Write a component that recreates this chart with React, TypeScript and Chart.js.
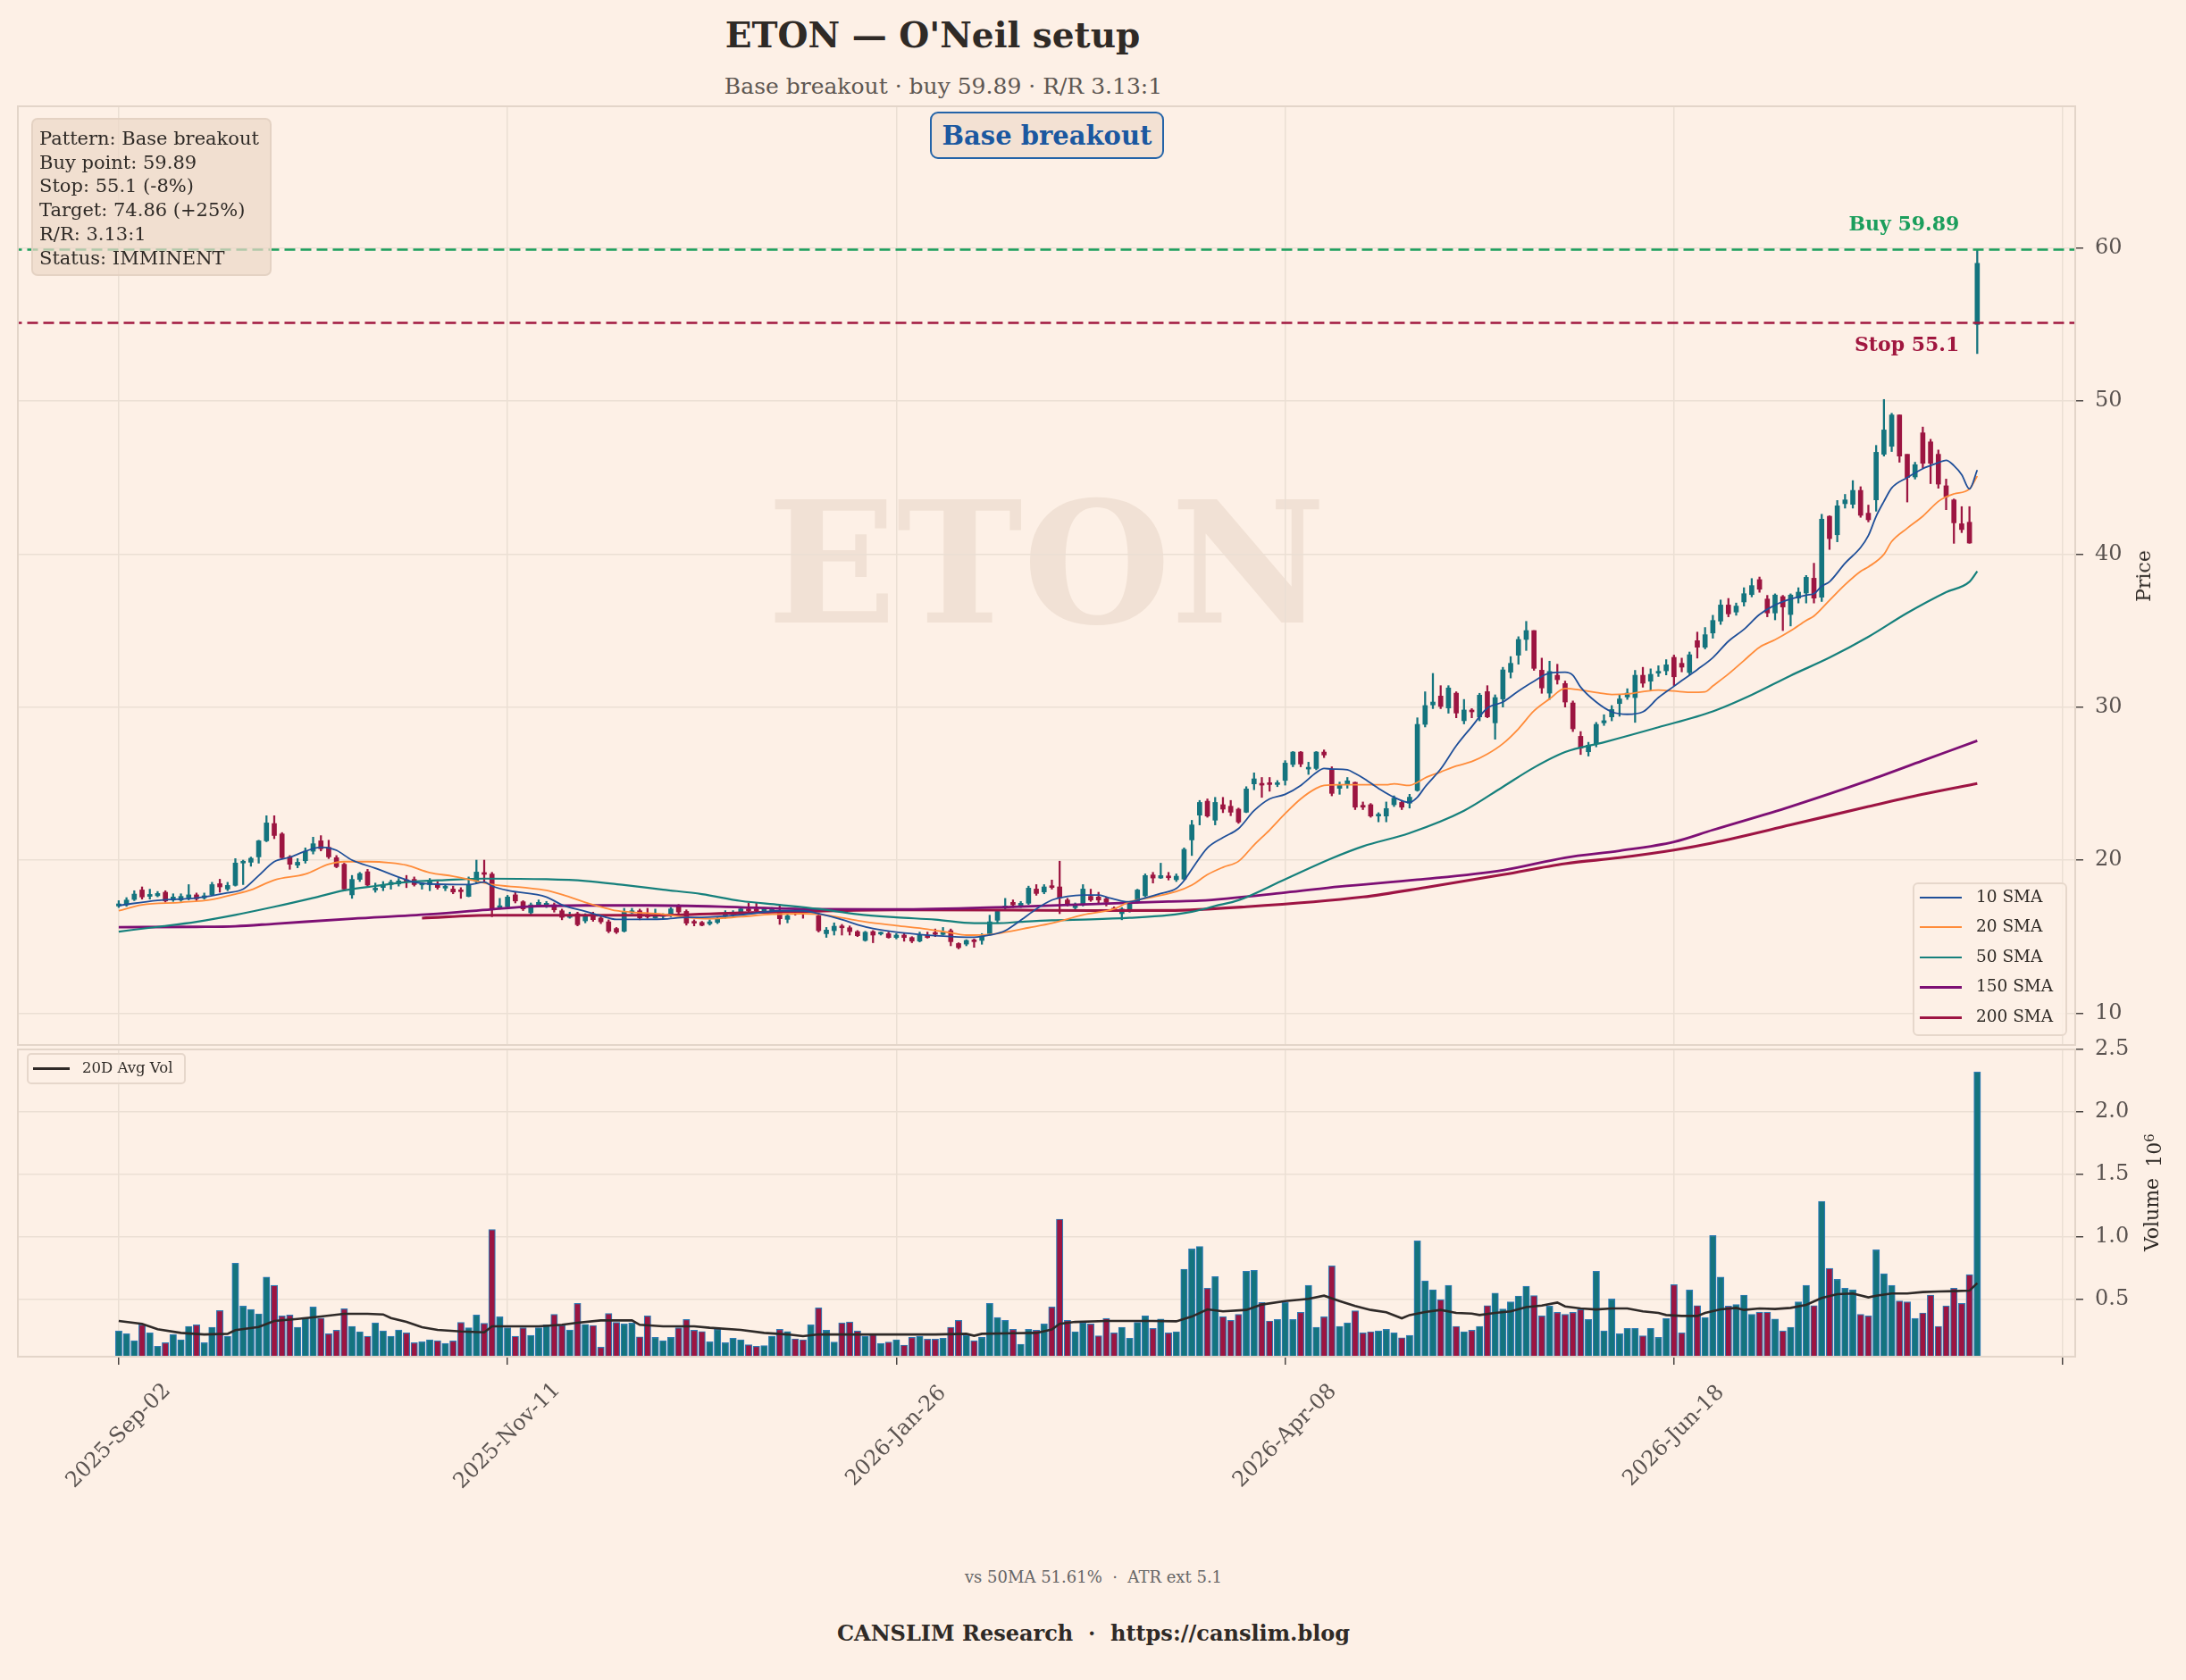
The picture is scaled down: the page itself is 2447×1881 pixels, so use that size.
import React, { useEffect, useRef } from "react";
import { Chart, registerables } from "chart.js";
Chart.register(...registerables);

const FONT = '"DejaVu Serif", "Liberation Serif", serif';
const BG = "#fdf0e6";
const GRID = "#ebdfd4";
const FRAME = "#e3d5c9";
const TICK_MARK = "#4a4542";
const TICK_TXT = "#5a5350";
const UP = "#14747e";
const DOWN = "#9c1541";
const EDGE = "#2f7bb5";
const GREEN = "#1b9e5c";
const STOPC = "#a0173f";
const C10 = "#1f4f99";
const C20 = "#ff8c3a";
const C50 = "#16807c";
const C150 = "#7d0f74";
const C200 = "#9d1443";

const TITLE = "ETON \u2014 O'Neil setup";
const SUBTITLE = "Base breakout \u00b7 buy 59.89 \u00b7 R/R 3.13:1";
const WATERMARK = "ETON";
const BUY = 59.89;
const STOP = 55.1;
const LABEL_IDX = 236.7;
const infoLines = ["Pattern: Base breakout", "Buy point: 59.89", "Stop: 55.1 (-8%)", "Target: 74.86 (+25%)", "R/R: 3.13:1", "Status: IMMINENT"];

const xTickIdx = [0, 50, 100, 150, 200, 250];
const xTickLabels = ["2025-Sep-02", "2025-Nov-11", "2026-Jan-26", "2026-Apr-08", "2026-Jun-18", ""];
const priceTicks = [10, 20, 30, 40, 50, 60];
const volTicks = [0.5, 1.0, 1.5, 2.0, 2.5];

const opens = [
  17.00, 17.08, 17.43, 18.05, 17.63, 17.67, 17.90, 17.39, 17.39, 17.53,
  17.73, 17.53, 17.73, 18.46, 18.11, 18.35, 19.81, 19.86, 20.21, 21.26,
  22.39, 21.71, 20.21, 19.67, 19.96, 20.58, 21.26, 20.84, 20.16, 19.73,
  17.73, 18.74, 19.24, 18.05, 18.21, 18.40, 18.44, 18.68, 18.74, 18.38,
  18.40, 18.40, 18.17, 18.11, 18.00, 17.63, 18.60, 19.14, 19.09, 16.90,
  16.95, 17.73, 17.28, 16.56, 17.08, 17.04, 17.08, 16.69, 16.26, 16.50,
  16.03, 16.46, 16.21, 15.97, 15.53, 15.35, 16.56, 16.69, 16.40, 16.23,
  16.32, 16.36, 16.95, 16.65, 15.97, 15.93, 15.84, 15.93, 16.32, 16.42,
  16.46, 16.81, 16.81, 16.65, 16.69, 16.56, 16.13, 16.69, 16.69, 16.69,
  16.36, 15.19, 15.39, 15.68, 15.58, 15.33, 14.75, 15.33, 15.17, 15.19,
  14.94, 15.10, 14.94, 14.71, 15.10, 15.20, 15.14, 15.39, 14.55, 14.51,
  14.75, 14.75, 15.19, 16.07, 16.89, 17.24, 17.04, 17.18, 18.11, 17.92,
  18.31, 18.25, 17.39, 16.89, 17.14, 17.63, 17.59, 17.47, 16.85, 16.50,
  16.65, 17.24, 17.67, 19.03, 18.83, 18.95, 18.72, 18.76, 21.32, 22.94,
  23.85, 22.61, 23.62, 23.52, 23.33, 23.13, 24.98, 24.98, 25.02, 24.94,
  25.21, 26.25, 27.06, 25.95, 25.99, 27.06, 25.95, 24.69, 24.98, 25.08,
  23.58, 23.62, 22.88, 22.88, 23.62, 23.77, 23.72, 24.55, 28.87, 30.14,
  30.72, 29.94, 30.91, 29.11, 29.75, 29.36, 31.01, 28.97, 30.53, 32.28,
  33.39, 34.42, 35.00, 32.41, 30.91, 32.08, 31.54, 30.27, 28.09, 27.08,
  27.61, 28.97, 29.36, 30.23, 30.66, 30.62, 32.08, 31.69, 32.22, 32.37,
  33.25, 32.86, 32.26, 34.34, 33.91, 34.84, 35.62, 36.67, 36.21, 36.87,
  37.35, 38.33, 37.06, 36.15, 37.22, 36.05, 37.12, 37.45, 38.42, 37.18,
  42.47, 41.26, 43.29, 43.25, 44.16, 42.67, 43.54, 46.52, 47.04, 49.09,
  46.52, 45.04, 47.92, 47.33, 46.52, 44.46, 43.54, 41.98, 42.08, 55.00,
];
const highs = [
  17.35, 17.55, 18.00, 18.25, 18.10, 17.95, 18.00, 17.80, 17.80, 18.40,
  17.85, 17.85, 18.55, 18.75, 18.55, 20.10, 20.00, 20.20, 21.30, 22.90,
  22.90, 21.80, 20.30, 20.10, 20.80, 21.50, 21.60, 21.30, 20.30, 19.80,
  19.00, 19.20, 19.40, 18.50, 18.60, 18.70, 18.80, 19.00, 18.90, 18.50,
  18.80, 18.60, 18.40, 18.30, 18.20, 18.90, 20.00, 20.00, 19.20, 17.50,
  17.70, 17.90, 17.35, 17.20, 17.40, 17.30, 17.20, 16.80, 16.60, 16.60,
  16.50, 16.60, 16.40, 16.10, 15.60, 16.85, 16.85, 16.80, 16.85, 16.80,
  16.50, 16.90, 17.10, 16.75, 16.10, 16.00, 16.10, 16.30, 16.70, 16.70,
  16.90, 17.20, 17.20, 16.90, 16.90, 17.00, 16.50, 16.80, 16.85, 16.85,
  16.50, 15.60, 15.90, 15.80, 15.70, 15.40, 15.35, 15.40, 15.30, 15.30,
  15.20, 15.20, 15.00, 15.30, 15.30, 15.50, 15.60, 15.50, 14.60, 14.80,
  14.85, 15.20, 16.40, 16.70, 17.50, 17.40, 17.30, 18.30, 18.40, 18.40,
  18.70, 19.93, 17.50, 17.20, 18.40, 18.10, 17.90, 17.60, 16.95, 16.90,
  17.30, 18.10, 19.10, 19.20, 19.80, 19.20, 19.10, 20.80, 22.60, 23.90,
  24.00, 24.10, 24.10, 23.90, 23.40, 24.80, 25.70, 25.40, 25.40, 25.20,
  26.50, 27.10, 27.10, 26.40, 27.10, 27.20, 26.10, 25.10, 25.40, 25.10,
  23.80, 23.70, 23.10, 23.80, 24.20, 23.90, 24.30, 29.30, 31.00, 32.20,
  31.40, 31.40, 31.00, 30.50, 29.90, 30.90, 31.40, 30.80, 32.60, 33.30,
  34.60, 35.60, 35.00, 33.20, 33.00, 32.80, 31.70, 30.40, 28.40, 27.70,
  29.00, 29.50, 30.10, 30.80, 31.20, 32.40, 32.60, 32.50, 32.70, 33.10,
  33.40, 33.20, 33.60, 34.90, 35.20, 36.00, 37.00, 37.10, 36.80, 37.80,
  38.40, 38.50, 37.30, 37.40, 37.30, 37.40, 37.80, 38.60, 39.40, 42.60,
  42.50, 43.50, 43.90, 44.80, 44.40, 43.20, 47.10, 50.10, 49.20, 49.10,
  46.50, 46.00, 48.30, 47.50, 46.80, 44.90, 43.60, 43.10, 43.10, 59.89,
];
const lows = [
  16.90, 16.98, 17.35, 17.45, 17.45, 17.60, 17.25, 17.30, 17.30, 17.40,
  17.35, 17.45, 17.70, 17.90, 18.00, 18.30, 18.40, 19.60, 19.80, 21.20,
  21.40, 20.10, 19.40, 19.50, 19.80, 20.40, 20.60, 20.10, 19.50, 18.00,
  17.50, 18.60, 18.30, 17.90, 18.00, 18.10, 18.30, 18.20, 18.30, 18.10,
  18.00, 18.10, 18.00, 17.80, 17.50, 17.60, 18.50, 18.60, 16.30, 16.80,
  16.90, 17.20, 16.70, 16.40, 17.00, 16.90, 16.60, 16.10, 16.20, 15.70,
  15.90, 16.00, 15.85, 15.25, 15.20, 15.30, 16.50, 16.10, 16.20, 16.20,
  16.20, 16.30, 16.50, 15.75, 15.70, 15.70, 15.75, 15.85, 16.20, 16.30,
  16.40, 16.60, 16.60, 16.55, 16.60, 15.80, 15.90, 16.40, 16.20, 16.60,
  15.30, 14.95, 15.10, 15.10, 15.10, 15.00, 14.70, 14.60, 15.10, 14.90,
  14.85, 14.70, 14.60, 14.65, 14.90, 15.00, 15.10, 14.40, 14.20, 14.40,
  14.30, 14.50, 15.10, 15.90, 16.80, 16.90, 16.90, 17.10, 17.70, 17.80,
  18.10, 16.50, 17.00, 16.80, 17.00, 17.30, 17.20, 17.00, 16.65, 16.10,
  16.60, 17.20, 17.60, 18.50, 18.80, 18.70, 18.60, 18.70, 20.30, 22.30,
  22.80, 22.30, 23.10, 22.90, 22.40, 23.10, 24.60, 24.10, 24.50, 24.80,
  24.90, 26.10, 26.10, 25.60, 25.90, 26.70, 24.20, 24.30, 24.70, 23.30,
  23.30, 22.80, 22.50, 22.50, 23.50, 23.30, 23.40, 24.50, 28.70, 29.90,
  29.90, 29.60, 29.30, 28.90, 29.30, 29.10, 29.30, 27.90, 30.00, 31.90,
  32.80, 33.70, 32.40, 30.90, 30.50, 31.50, 30.00, 28.40, 26.90, 26.80,
  27.40, 28.80, 29.10, 29.40, 30.50, 29.00, 31.30, 31.10, 32.00, 32.10,
  31.40, 32.30, 32.10, 33.20, 33.80, 34.50, 35.40, 35.90, 36.00, 36.60,
  37.20, 37.50, 35.90, 35.70, 35.00, 35.30, 36.80, 36.80, 36.80, 36.90,
  40.30, 40.80, 43.00, 43.00, 42.40, 42.10, 42.80, 46.40, 46.70, 46.00,
  43.40, 44.90, 45.60, 44.60, 44.30, 42.90, 40.70, 41.40, 40.70, 53.10,
];
const closes = [
  17.14, 17.39, 17.78, 17.59, 17.76, 17.82, 17.33, 17.59, 17.63, 17.73,
  17.47, 17.67, 18.40, 18.25, 18.35, 19.81, 19.86, 20.12, 21.26, 22.43,
  21.61, 20.16, 19.73, 19.86, 20.58, 21.07, 20.74, 20.21, 19.57, 18.11,
  18.74, 19.12, 18.37, 18.15, 18.40, 18.56, 18.64, 18.60, 18.40, 18.42,
  18.64, 18.21, 18.25, 17.92, 17.94, 18.40, 19.22, 19.07, 16.85, 16.97,
  17.59, 17.33, 16.81, 17.08, 17.24, 17.18, 16.75, 16.26, 16.36, 15.78,
  16.36, 16.11, 15.97, 15.35, 15.29, 16.65, 16.69, 16.23, 16.30, 16.36,
  16.38, 16.81, 16.61, 15.88, 15.88, 15.74, 15.97, 16.15, 16.38, 16.50,
  16.81, 16.69, 16.69, 16.81, 16.81, 16.17, 16.36, 16.61, 16.61, 16.77,
  15.39, 15.43, 15.68, 15.58, 15.33, 15.06, 15.29, 15.10, 15.23, 14.94,
  15.10, 14.94, 14.71, 15.14, 14.94, 15.15, 15.29, 14.67, 14.28, 14.75,
  14.67, 15.06, 15.97, 16.65, 17.00, 17.08, 17.18, 18.17, 17.82, 18.25,
  18.21, 17.53, 17.14, 17.00, 18.11, 17.39, 17.39, 17.24, 16.75, 16.81,
  17.24, 18.05, 18.99, 18.83, 18.99, 18.85, 18.95, 20.70, 22.30, 23.77,
  22.88, 23.77, 23.33, 23.13, 22.49, 24.65, 25.31, 24.90, 24.94, 25.02,
  26.34, 27.06, 26.28, 26.03, 27.06, 26.87, 24.36, 24.94, 25.18, 23.46,
  23.46, 22.88, 23.00, 23.37, 24.05, 23.46, 24.11, 28.87, 30.10, 30.33,
  30.04, 31.25, 29.61, 29.81, 29.69, 30.78, 29.36, 30.62, 32.43, 32.86,
  34.42, 35.00, 32.53, 31.25, 32.33, 31.79, 30.33, 28.58, 27.32, 27.51,
  28.87, 29.11, 29.84, 30.53, 30.91, 32.08, 31.56, 32.14, 32.33, 32.76,
  31.98, 32.61, 33.42, 33.91, 34.73, 35.66, 36.67, 36.09, 36.60, 37.41,
  37.94, 37.70, 36.15, 37.32, 36.54, 37.32, 37.51, 38.48, 37.12, 42.28,
  41.01, 43.15, 43.54, 44.16, 42.53, 42.24, 46.65, 48.11, 49.09, 46.40,
  45.00, 45.84, 45.93, 45.93, 44.57, 43.74, 42.04, 41.60, 40.72, 59.00,
];
// volume in millions of shares
const volumes = [
  0.250, 0.226, 0.171, 0.298, 0.233, 0.126, 0.155, 0.221, 0.179, 0.286,
  0.298, 0.155, 0.279, 0.412, 0.207, 0.790, 0.448, 0.421, 0.386, 0.679,
  0.614, 0.369, 0.376, 0.279, 0.357, 0.440, 0.352, 0.226, 0.255, 0.426,
  0.286, 0.243, 0.207, 0.314, 0.250, 0.207, 0.257, 0.233, 0.155, 0.162,
  0.179, 0.171, 0.150, 0.169, 0.317, 0.274, 0.376, 0.310, 1.060, 0.362,
  0.274, 0.207, 0.274, 0.214, 0.274, 0.298, 0.381, 0.293, 0.257, 0.469,
  0.302, 0.293, 0.119, 0.388, 0.317, 0.305, 0.312, 0.202, 0.369, 0.198,
  0.171, 0.198, 0.274, 0.340, 0.255, 0.245, 0.162, 0.262, 0.155, 0.190,
  0.179, 0.138, 0.126, 0.131, 0.207, 0.262, 0.245, 0.186, 0.179, 0.298,
  0.433, 0.255, 0.160, 0.314, 0.321, 0.250, 0.207, 0.219, 0.150, 0.160,
  0.179, 0.136, 0.198, 0.207, 0.183, 0.183, 0.190, 0.279, 0.333, 0.214,
  0.171, 0.198, 0.469, 0.357, 0.333, 0.262, 0.143, 0.262, 0.255, 0.305,
  0.440, 1.143, 0.333, 0.243, 0.314, 0.305, 0.210, 0.350, 0.233, 0.279,
  0.190, 0.317, 0.369, 0.269, 0.345, 0.233, 0.243, 0.743, 0.905, 0.924,
  0.590, 0.683, 0.364, 0.333, 0.381, 0.726, 0.733, 0.476, 0.329, 0.340,
  0.476, 0.340, 0.398, 0.614, 0.279, 0.362, 0.769, 0.286, 0.314, 0.410,
  0.233, 0.243, 0.250, 0.262, 0.233, 0.195, 0.214, 0.969, 0.650, 0.579,
  0.500, 0.614, 0.286, 0.243, 0.255, 0.286, 0.452, 0.552, 0.424, 0.481,
  0.529, 0.607, 0.531, 0.369, 0.448, 0.398, 0.381, 0.398, 0.421, 0.340,
  0.726, 0.250, 0.505, 0.226, 0.269, 0.269, 0.210, 0.269, 0.198, 0.350,
  0.619, 0.233, 0.576, 0.452, 0.357, 1.012, 0.679, 0.448, 0.460, 0.536,
  0.381, 0.400, 0.400, 0.345, 0.250, 0.279, 0.481, 0.614, 0.452, 1.286,
  0.750, 0.662, 0.590, 0.579, 0.381, 0.369, 0.898, 0.707, 0.614, 0.488,
  0.481, 0.350, 0.393, 0.536, 0.286, 0.450, 0.590, 0.469, 0.700, 2.320,
];

const sma10 = [
  [0, 17.04], [5, 17.37], [10, 17.53], [14, 17.86], [16, 18.1], [18, 18.99], [20, 19.9], [22, 20.19], [24, 20.58], [26, 20.84],
  [27, 20.8], [28, 20.64], [30, 20.0], [33, 19.47], [36, 18.89], [38, 18.56], [40, 18.44], [45, 18.4], [47, 18.56], [48, 18.31],
  [50, 18.02], [55, 17.59], [57, 17.08], [60, 16.65], [62, 16.36], [64, 16.13], [66, 16.13], [70, 16.15], [73, 16.26], [75, 16.26],
  [80, 16.42], [85, 16.69], [88, 16.69], [90, 16.5], [93, 16.11], [95, 15.78], [97, 15.53], [100, 15.29], [103, 15.14], [105, 15.06],
  [108, 14.98], [110, 14.96], [112, 15.1], [114, 15.39], [116, 16.07], [118, 16.81], [120, 17.39], [122, 17.63], [124, 17.72], [126, 17.72],
  [127, 17.59], [129, 17.33], [130, 17.28], [132, 17.53], [134, 17.82], [136, 18.15], [137, 18.66], [138, 19.4], [140, 20.8], [142, 21.48],
  [144, 22.06], [146, 23.23], [148, 24.0], [150, 24.3], [152, 24.88], [154, 25.72], [155, 25.99], [156, 25.95], [158, 25.9], [159, 25.66],
  [160, 25.37], [162, 24.69], [164, 24.11], [166, 23.77], [167, 24.11], [168, 24.79], [170, 25.95], [172, 27.47], [174, 28.72], [176, 29.94],
  [178, 30.33], [180, 31.05], [182, 31.69], [184, 32.22], [186, 32.28], [187, 32.08], [188, 31.3], [190, 30.33], [192, 29.69], [194, 29.53],
  [196, 29.69], [198, 30.62], [200, 31.36], [201, 31.73], [203, 32.45], [205, 33.23], [207, 34.3], [209, 35.08], [211, 36.05], [213, 36.67],
  [215, 37.06], [217, 37.32], [218, 37.41], [219, 37.9], [220, 38.19], [222, 39.4], [224, 40.43], [225, 41.21], [226, 42.47], [227, 43.44],
  [228, 44.32], [230, 45.0], [232, 45.58], [234, 45.97], [235, 46.13], [236, 45.78], [237, 45.19], [238, 44.26], [239, 45.49],
];
const sma20 = [
  [0, 16.69], [3, 17.08], [8, 17.24], [12, 17.43], [15, 17.78], [17, 18.05], [20, 18.7], [24, 19.09], [27, 19.73], [29, 19.9],
  [32, 19.9], [35, 19.82], [37, 19.67], [40, 19.18], [43, 18.95], [46, 18.64], [48, 18.4], [52, 18.21], [55, 18.02], [58, 17.59],
  [60, 17.24], [62, 16.95], [64, 16.69], [66, 16.6], [70, 16.46], [73, 16.26], [76, 16.17], [80, 16.3], [84, 16.46], [88, 16.5],
  [90, 16.46], [93, 16.23], [96, 15.97], [100, 15.72], [104, 15.49], [107, 15.25], [109, 15.1], [112, 15.14], [114, 15.29], [117, 15.58],
  [120, 15.88], [124, 16.42], [128, 16.81], [130, 17.28], [133, 17.59], [136, 17.95], [138, 18.37], [140, 19.05], [142, 19.53], [144, 19.92],
  [146, 20.99], [148, 21.97], [150, 23.04], [152, 24.0], [154, 24.69], [155, 24.88], [157, 24.92], [160, 24.92], [163, 24.92], [164, 24.98],
  [166, 24.88], [167, 25.08], [168, 25.37], [170, 25.76], [172, 26.15], [174, 26.44], [176, 26.93], [178, 27.61], [180, 28.58], [182, 29.75],
  [184, 30.53], [186, 31.21], [188, 31.11], [190, 30.95], [192, 30.82], [194, 30.86], [196, 31.01], [198, 31.11], [200, 31.05], [202, 30.97],
  [204, 31.0], [205, 31.38], [207, 32.16], [209, 33.04], [211, 33.91], [213, 34.4], [215, 34.98], [217, 35.66], [218, 35.95], [220, 36.98],
  [222, 38.0], [224, 38.87], [225, 39.16], [227, 39.98], [228, 40.82], [230, 41.69], [232, 42.47], [234, 43.44], [235, 43.74], [236, 43.93],
  [238, 44.26], [239, 45.1],
];
const sma50 = [
  [0, 15.33], [5, 15.64], [10, 15.97], [15, 16.42], [20, 16.95], [25, 17.53], [29, 18.02], [33, 18.31], [37, 18.56], [42, 18.7],
  [47, 18.79], [55, 18.75], [60, 18.64], [65, 18.37], [70, 18.07], [75, 17.78], [80, 17.33], [85, 17.08], [90, 16.81], [95, 16.46],
  [100, 16.26], [105, 16.11], [110, 15.88], [113, 15.88], [116, 15.97], [120, 16.07], [125, 16.13], [130, 16.23], [135, 16.4], [138, 16.62],
  [141, 17.0], [144, 17.38], [150, 18.75], [156, 20.12], [160, 20.9], [166, 21.77], [173, 23.23], [178, 24.79], [182, 26.05], [186, 27.06],
  [191, 27.7], [198, 28.68], [205, 29.72], [210, 30.8], [215, 32.06], [220, 33.23], [225, 34.59], [230, 36.15], [235, 37.51], [238, 38.19],
  [239, 38.87],
];
const sma150 = [
  [0, 15.62], [10, 15.64], [15, 15.68], [20, 15.84], [30, 16.17], [40, 16.46], [48, 16.79], [52, 16.95], [60, 17.04], [68, 17.04],
  [80, 16.92], [88, 16.8], [100, 16.78], [115, 16.95], [125, 17.12], [135, 17.3], [139, 17.35], [150, 17.88], [157, 18.27], [167, 18.72],
  [178, 19.34], [186, 20.16], [193, 20.61], [200, 21.19], [205, 21.97], [215, 23.5], [225, 25.2], [232, 26.5], [239, 27.8],
];
const sma200 = [
  [39, 16.21], [48, 16.4], [60, 16.4], [68, 16.4], [80, 16.55], [88, 16.65], [100, 16.75], [115, 16.73], [125, 16.7], [135, 16.71],
  [145, 16.95], [160, 17.59], [168, 18.21], [178, 19.05], [186, 19.77], [193, 20.16], [200, 20.66], [205, 21.13], [215, 22.3], [225, 23.5],
  [232, 24.3], [239, 25.0],
];
const avgVol = [
  [0, 0.329], [3, 0.305], [5, 0.262], [8, 0.233], [11, 0.221], [14, 0.226], [15, 0.255], [18, 0.281], [20, 0.329], [23, 0.345],
  [26, 0.364], [29, 0.386], [32, 0.386], [34, 0.381], [35, 0.352], [37, 0.321], [39, 0.279], [41, 0.257], [44, 0.245], [47, 0.238],
  [48, 0.286], [50, 0.286], [54, 0.286], [57, 0.298], [59, 0.314], [62, 0.333], [66, 0.333], [67, 0.298], [70, 0.286], [74, 0.286],
  [76, 0.274], [80, 0.257], [83, 0.233], [86, 0.221], [88, 0.207], [90, 0.221], [95, 0.221], [100, 0.221], [105, 0.221], [109, 0.226],
  [110, 0.21], [111, 0.226], [115, 0.231], [118, 0.233], [120, 0.26], [121, 0.305], [123, 0.321], [127, 0.329], [133, 0.329], [136, 0.326],
  [138, 0.364], [140, 0.421], [142, 0.405], [145, 0.417], [147, 0.46], [150, 0.488], [153, 0.505], [155, 0.531], [157, 0.488], [159, 0.448],
  [161, 0.417], [163, 0.398], [165, 0.35], [166, 0.376], [168, 0.4], [170, 0.417], [172, 0.393], [174, 0.388], [175, 0.376], [177, 0.393],
  [179, 0.405], [181, 0.44], [183, 0.452], [185, 0.476], [186, 0.445], [188, 0.429], [190, 0.421], [192, 0.429], [194, 0.429], [196, 0.405],
  [198, 0.393], [199, 0.376], [201, 0.369], [203, 0.369], [204, 0.393], [206, 0.421], [208, 0.433], [209, 0.417], [211, 0.429], [213, 0.424],
  [215, 0.433], [217, 0.457], [219, 0.512], [221, 0.543], [223, 0.548], [225, 0.517], [226, 0.531], [228, 0.548], [230, 0.548], [232, 0.56],
  [234, 0.564], [236, 0.567], [238, 0.571], [239, 0.631],
];

const smaDefs = [
  { label: "10 SMA", pts: sma10, color: C10, width: 1.8 },
  { label: "20 SMA", pts: sma20, color: C20, width: 1.8 },
  { label: "50 SMA", pts: sma50, color: C50, width: 2.2 },
  { label: "150 SMA", pts: sma150, color: C150, width: 2.8 },
  { label: "200 SMA", pts: sma200, color: C200, width: 3.1 },
];

// layout (page pixels)
const PLOT_L = 20;
const PLOT_R = 2323;
const PRICE_T = 119;
const PRICE_B = 1170;
const VOL_T = 1175;
const VOL_B = 1519;
const PAD = 6;
const VPAD_TOP = 20;
const AXW = 124;
const XAXIS_H = 200;
const XMIN = -12.97;
const XMAX = 251.6;

const idx = opens.map((_, i) => i);
const candleColors = idx.map((i) => (closes[i] >= opens[i] ? UP : DOWN));

const framePlugin = {
  id: "frame",
  afterDraw(chart: any) {
    const { ctx, chartArea } = chart;
    ctx.save();
    ctx.strokeStyle = FRAME;
    ctx.lineWidth = 2;
    ctx.strokeRect(chartArea.left, chartArea.top, chartArea.right - chartArea.left, chartArea.bottom - chartArea.top);
    ctx.restore();
  },
};

const levelLabelPlugin = {
  id: "levelLabels",
  afterDatasetsDraw(chart: any) {
    const { ctx, scales } = chart;
    const lx = scales.x.getPixelForValue(LABEL_IDX);
    ctx.save();
    ctx.font = `bold 22px ${FONT}`;
    ctx.textAlign = "right";
    ctx.textBaseline = "alphabetic";
    ctx.fillStyle = GREEN;
    ctx.fillText(`Buy ${BUY}`, lx, scales.y.getPixelForValue(BUY) - 22);
    ctx.fillStyle = STOPC;
    ctx.fillText(`Stop ${STOP}`, lx, scales.y.getPixelForValue(STOP) + 31);
    ctx.restore();
  },
};

const xLabelPlugin = {
  id: "xLabels",
  afterDraw(chart: any) {
    const { ctx, chartArea, scales } = chart;
    ctx.save();
    ctx.font = `24px ${FONT}`;
    ctx.fillStyle = TICK_TXT;
    ctx.textAlign = "center";
    ctx.textBaseline = "middle";
    xTickIdx.forEach((v, k) => {
      const lbl = xTickLabels[k];
      if (!lbl) return;
      const px = scales.x.getPixelForValue(v);
      ctx.save();
      ctx.translate(px, chartArea.bottom + 89);
      ctx.rotate(-Math.PI / 4);
      ctx.fillText(lbl, 0, 0);
      ctx.restore();
    });
    ctx.restore();
  },
};

function xScale(drawTicks: boolean, h: number) {
  return {
    type: "linear",
    min: XMIN,
    max: XMAX,
    offset: false,
    grid: { color: GRID, lineWidth: 1.5, drawTicks, tickLength: 9, tickColor: TICK_MARK, tickWidth: 1.5, offset: false },
    border: { display: false },
    ticks: { display: false },
    afterBuildTicks: (s: any) => {
      s.ticks = xTickIdx.map((v) => ({ value: v }));
    },
    afterFit: (s: any) => {
      s.height = h;
      s.paddingLeft = 0;
      s.paddingRight = 0;
    },
  };
}

function yScale(min: number, max: number, ticks: number[], fmt: (v: number) => string) {
  return {
    type: "linear",
    position: "right",
    min,
    max,
    grid: { color: GRID, lineWidth: 1.5, drawTicks: true, tickLength: 9, tickColor: TICK_MARK, tickWidth: 1.5 },
    border: { display: false },
    ticks: { color: TICK_TXT, font: { family: FONT, size: 24 }, padding: 13, callback: (v: any) => fmt(Number(v)) },
    afterBuildTicks: (s: any) => {
      s.ticks = ticks.map((v) => ({ value: v }));
    },
    afterFit: (s: any) => {
      s.width = AXW;
      s.paddingTop = 0;
      s.paddingBottom = 0;
    },
  };
}

function priceConfig(): any {
  const lineSets = smaDefs.map((d, k) => ({
    type: "line",
    label: d.label,
    data: d.pts.map(([x, y]) => ({ x, y })),
    borderColor: d.color,
    borderWidth: d.width,
    pointRadius: 0,
    cubicInterpolationMode: "monotone",
    fill: false,
    order: 1 + k,
  }));
  return {
    type: "bar",
    data: {
      datasets: [
        {
          type: "line",
          label: "buy",
          data: [{ x: XMIN - 5, y: BUY }, { x: XMAX + 5, y: BUY }],
          borderColor: GREEN,
          borderWidth: 2.5,
          borderDash: [12, 6],
          pointRadius: 0,
          order: 0,
        },
        {
          type: "line",
          label: "stop",
          data: [{ x: XMIN - 5, y: STOP }, { x: XMAX + 5, y: STOP }],
          borderColor: STOPC,
          borderWidth: 2.5,
          borderDash: [12, 6],
          pointRadius: 0,
          order: 0,
        },
        ...lineSets,
        {
          type: "bar",
          label: "wick",
          data: idx.map((i) => ({ x: i, y: [lows[i], highs[i]] })),
          backgroundColor: candleColors,
          barThickness: 1.6,
          grouped: false,
          order: 20,
        },
        {
          type: "bar",
          label: "body",
          data: idx.map((i) => ({ x: i, y: [Math.min(opens[i], closes[i]), Math.max(opens[i], closes[i])] })),
          backgroundColor: candleColors,
          barThickness: 5,
          minBarLength: 2,
          grouped: false,
          order: 19,
        },
      ],
    },
    options: {
      responsive: false,
      animation: false,
      events: [],
      layout: { padding: { left: PAD, top: PAD, bottom: PAD, right: 0 }, autoPadding: false },
      plugins: { legend: { display: false }, tooltip: { enabled: false } },
      scales: {
        x: xScale(false, 0),
        y: yScale(7.92, 69.26, priceTicks, (v) => String(v)),
      },
    },
    plugins: [framePlugin, levelLabelPlugin],
  };
}

function volumeConfig(): any {
  return {
    type: "bar",
    data: {
      datasets: [
        {
          type: "line",
          label: "20D Avg Vol",
          data: avgVol.map(([x, y]) => ({ x, y })),
          borderColor: "#2f2a28",
          borderWidth: 2.6,
          pointRadius: 0,
          order: 0,
        },
        {
          type: "bar",
          label: "Volume",
          data: idx.map((i) => ({ x: i, y: volumes[i] })),
          backgroundColor: candleColors,
          borderColor: EDGE,
          borderWidth: 1.2,
          barThickness: 7.4,
          grouped: false,
          order: 1,
        },
      ],
    },
    options: {
      responsive: false,
      animation: false,
      events: [],
      layout: { padding: { left: PAD, top: VPAD_TOP, bottom: 0, right: 0 }, autoPadding: false },
      plugins: { legend: { display: false }, tooltip: { enabled: false } },
      scales: {
        x: xScale(true, XAXIS_H),
        y: yScale(0.043, 2.5, volTicks, (v) => v.toFixed(1)),
      },
    },
    plugins: [framePlugin, xLabelPlugin],
  };
}

const abs = (o: any) => ({ position: "absolute", ...o }) as React.CSSProperties;

export default function App() {
  const priceRef = useRef<HTMLCanvasElement>(null);
  const volRef = useRef<HTMLCanvasElement>(null);

  useEffect(() => {
    document.body.style.margin = "0";
    document.body.style.background = BG;
    const pc = new Chart(priceRef.current as HTMLCanvasElement, priceConfig());
    const vc = new Chart(volRef.current as HTMLCanvasElement, volumeConfig());
    return () => {
      pc.destroy();
      vc.destroy();
    };
  }, []);

  const priceW = 2447 - (PLOT_L - PAD);
  const priceH = PRICE_B - PRICE_T + 2 * PAD;
  const volH = VPAD_TOP + (VOL_B - VOL_T) + XAXIS_H;

  return (
    <div style={abs({ left: 0, top: 0, width: 2447, height: 1881, background: BG, overflow: "hidden", fontFamily: FONT, color: "#2f2a26" })}>
      {/* watermark */}
      <div style={abs({ left: (PLOT_L + PLOT_R) / 2, top: 536, transform: "translateX(-50%)", fontSize: 190, lineHeight: "190px", fontWeight: 700, color: "rgba(160,120,90,0.12)", whiteSpace: "nowrap" })}>
        {WATERMARK}
      </div>

      <canvas ref={priceRef} width={priceW} height={priceH} style={abs({ left: PLOT_L - PAD, top: PRICE_T - PAD, width: priceW, height: priceH })} />
      <canvas ref={volRef} width={priceW} height={volH} style={abs({ left: PLOT_L - PAD, top: VOL_T - VPAD_TOP, width: priceW, height: volH })} />

      {/* titles */}
      <div style={abs({ left: 1044, top: 20, transform: "translateX(-50%)", fontSize: 39, lineHeight: "39px", fontWeight: 700, whiteSpace: "nowrap", color: "#2f2a26" })}>{TITLE}</div>
      <div style={abs({ left: 1056, top: 84, transform: "translateX(-50%)", fontSize: 25, lineHeight: "25px", whiteSpace: "nowrap", color: "#5e5752" })}>{SUBTITLE}</div>

      {/* info box */}
      <div style={abs({ left: 35, top: 132, width: 269, height: 177, boxSizing: "border-box", padding: "8px 0 0 7px", background: "rgba(236,216,200,0.72)", border: "2px solid rgba(226,208,193,0.9)", borderRadius: 7, fontSize: 21, lineHeight: "26.7px", color: "#2f2a26", whiteSpace: "nowrap" })}>
        {infoLines.map((t) => (
          <div key={t}>{t}</div>
        ))}
      </div>

      {/* pattern label */}
      <div style={abs({ left: 1041, top: 125, width: 262, height: 53, boxSizing: "border-box", display: "flex", alignItems: "center", justifyContent: "center", background: "#f3e1d3", border: "2.5px solid #2363a8", borderRadius: 9, fontSize: 29, fontWeight: 700, color: "#1b58a0", whiteSpace: "nowrap" })}>
        Base breakout
      </div>

      {/* SMA legend */}
      <div style={abs({ left: 2141, top: 988, width: 173, height: 172, boxSizing: "border-box", background: "rgba(253,240,230,0.8)", border: "2px solid #e6d7cb", borderRadius: 6 })}>
        {smaDefs.map((d, k) => (
          <div key={d.label} style={abs({ left: 0, top: 14 + k * 33.4, width: 171, height: 4 })}>
            <div style={abs({ left: 6, top: 0, width: 47, height: d.width, background: d.color })} />
            <div style={abs({ left: 69, top: -13, fontSize: 18.5, lineHeight: "26px", color: "#2f2a26", whiteSpace: "nowrap" })}>{d.label}</div>
          </div>
        ))}
      </div>

      {/* volume legend */}
      <div style={abs({ left: 30, top: 1179, width: 178, height: 35, boxSizing: "border-box", background: "rgba(253,240,230,0.8)", border: "2px solid #e6d7cb", borderRadius: 5 })}>
        <div style={abs({ left: 5, top: 14, width: 41, height: 2.6, background: "#2f2a28" })} />
        <div style={abs({ left: 60, top: 4, fontSize: 16.5, lineHeight: "22px", color: "#2f2a26", whiteSpace: "nowrap" })}>20D Avg Vol</div>
      </div>

      {/* axis titles */}
      <div style={abs({ left: 2400, top: (PRICE_T + PRICE_B) / 2, transform: "translate(-50%, -50%) rotate(-90deg)", fontSize: 22, lineHeight: "24px", whiteSpace: "nowrap", color: "#2f2a26" })}>Price</div>
      <div style={abs({ left: 2409, top: 1360, transform: "translate(-50%, -50%) rotate(-90deg)", fontSize: 22, lineHeight: "24px", whiteSpace: "nowrap", color: "#2f2a26" })}>Volume</div>
      <div style={abs({ left: 2409, top: 1288, transform: "translate(-50%, -50%) rotate(-90deg)", fontSize: 22, lineHeight: "24px", whiteSpace: "nowrap", color: "#2f2a26" })}>
        10<sup style={{ fontSize: 15 }}>6</sup>
      </div>

      {/* footer */}
      <div style={abs({ left: 1224, top: 1757, transform: "translateX(-50%)", fontSize: 18, lineHeight: "18px", whiteSpace: "nowrap", color: "#666" })}>
        vs 50MA 51.61%&nbsp;&nbsp;·&nbsp;&nbsp;ATR ext 5.1
      </div>
      <div style={abs({ left: 1224, top: 1817, transform: "translateX(-50%)", fontSize: 24, lineHeight: "24px", fontWeight: 700, whiteSpace: "nowrap", color: "#2f2a26" })}>
        CANSLIM Research&nbsp;&nbsp;·&nbsp;&nbsp;https://canslim.blog
      </div>
    </div>
  );
}
